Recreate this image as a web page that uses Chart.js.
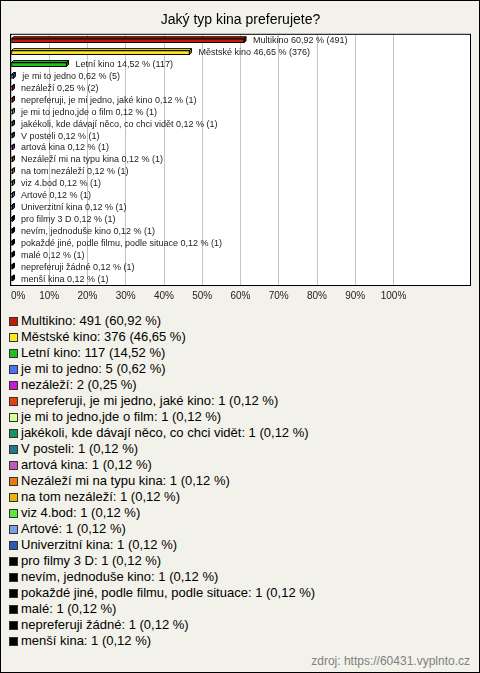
<!DOCTYPE html>
<html>
<head>
<meta charset="utf-8">
<script src="https://cdn.jsdelivr.net/npm/chart.js@4"></script>
<style>
    body { margin: 0; font-family: "Liberation Sans", Arial, sans-serif; }
    #wrap { position: relative; width: 480px; height: 673px; box-sizing: border-box; border: 1px solid #000; background: #f3f2ea; }
    #box { position: absolute; left: 0; top: 0; width: 478px; height: 310px; }
    #legend { position: absolute; left: 8px; top: 312px; }
    .row { height: 16px; line-height: 16px; font-size: 13px; color: #000; white-space: nowrap; }
    .sq { display: inline-block; width: 9px; height: 9px; box-sizing: border-box; border: 1px solid #333; margin-right: 3px; vertical-align: -1px; }
    #src { position: absolute; right: 9px; top: 653px; font-size: 12px; line-height: 14px; color: #808080; }
</style>
</head>
<body>
<div id="wrap">
    <div id="box"><canvas id="chart"></canvas></div>
    <div id="legend"></div>
    <div id="src">zdroj: https://60431.vyplnto.cz</div>
</div>
<script>
const title = 'Jaký typ kina preferujete?';

const categories = [
    'Multikino', 'Městské kino', 'Letní kino', 'je mi to jedno', 'nezáleží',
    'nepreferuji, je mi jedno, jaké kino', 'je mi to jedno,jde o film',
    'jakékoli, kde dávají něco, co chci vidět', 'V posteli', 'artová kina',
    'Nezáleží mi na typu kina', 'na tom nezáleží', 'viz 4.bod', 'Artové',
    'Univerzitní kina', 'pro filmy 3 D', 'nevím, jednoduše kino',
    'pokaždé jiné, podle filmu, podle situace', 'malé', 'nepreferuji žádné', 'menší kina'
];
const counts = [491, 376, 117, 5, 2, 1, 1, 1, 1, 1, 1, 1, 1, 1, 1, 1, 1, 1, 1, 1, 1];
const percents = [60.92, 46.65, 14.52, 0.62, 0.25, 0.12, 0.12, 0.12, 0.12, 0.12, 0.12,
    0.12, 0.12, 0.12, 0.12, 0.12, 0.12, 0.12, 0.12, 0.12, 0.12];
const colors = [
    '#c41a0a', '#ffe81a', '#1ec21e', '#4a72f5', '#c81ad2', '#e6400c', '#d4ff90',
    '#0e9a5a', '#1e7890', '#c05abc', '#e87a10', '#e8b40a', '#5ae83a', '#7ca0e6',
    '#2a5ab8', '#000000', '#000000', '#000000', '#000000', '#000000', '#000000'
];
const xTicks = [0, 10, 20, 30, 40, 50, 60, 70, 80, 90, 100];

const fmt = (v) => v.toFixed(2).replace('.', ',');

function darker(hex) {
    var n = parseInt(hex.slice(1), 16);
    var r = Math.round(((n >> 16) & 255) * 0.6), g = Math.round(((n >> 8) & 255) * 0.6), b = Math.round((n & 255) * 0.6);
    return 'rgb(' + r + ',' + g + ',' + b + ')';
}

// white plot background + black frame
const plotFrame = {
    id: 'plotFrame',
    beforeDraw(chart) {
        const a = chart.chartArea, ctx = chart.ctx;
        ctx.save();
        ctx.fillStyle = '#fff';
        ctx.fillRect(a.left, a.top, a.right - a.left, a.bottom - a.top);
        ctx.restore();
    },
    afterDraw(chart) {
        const a = chart.chartArea, ctx = chart.ctx;
        ctx.save();
        ctx.strokeStyle = '#000';
        ctx.lineWidth = 1;
        ctx.strokeRect(a.left - 0.5, a.top - 0.5, a.right - a.left + 1, a.bottom - a.top + 1);
        ctx.restore();
    }
};

// 3d top/side faces behind the bars, labels after them
const bars3d = {
    id: 'bars3d',
    beforeDatasetsDraw(chart) {
        const ctx = chart.ctx, d = 2;
        ctx.save();
        ctx.lineWidth = 1;
        ctx.strokeStyle = '#000';
        chart.getDatasetMeta(0).data.forEach((bar, i) => {
            const x0 = bar.base, x1 = Math.max(bar.x, bar.base + 1);
            const yt = bar.y - bar.height / 2, yb = bar.y + bar.height / 2;
            ctx.fillStyle = colors[i];
            ctx.beginPath();
            ctx.moveTo(x0, yt); ctx.lineTo(x1, yt); ctx.lineTo(x1 + d, yt - d); ctx.lineTo(x0 + d, yt - d);
            ctx.closePath(); ctx.fill(); ctx.stroke();
            ctx.fillStyle = darker(colors[i]);
            ctx.beginPath();
            ctx.moveTo(x1, yt); ctx.lineTo(x1 + d, yt - d); ctx.lineTo(x1 + d, yb - d); ctx.lineTo(x1, yb);
            ctx.closePath(); ctx.fill(); ctx.stroke();
        });
        ctx.restore();
    },
    afterDatasetsDraw(chart) {
        const ctx = chart.ctx;
        ctx.save();
        ctx.font = '9px "Liberation Sans", Arial, sans-serif';
        ctx.fillStyle = '#222';
        ctx.textBaseline = 'middle';
        chart.getDatasetMeta(0).data.forEach((bar, i) => {
            ctx.fillText(categories[i] + ' ' + fmt(percents[i]) + ' % (' + counts[i] + ')', bar.x + 9, bar.y);
        });
        ctx.restore();
    }
};

const config = {
    type: 'bar',
    data: {
        labels: categories,
        datasets: [{
            data: percents,
            backgroundColor: colors,
            borderColor: '#000',
            borderWidth: 1,
            borderSkipped: false,
            barThickness: 4,
            minBarLength: 1
        }]
    },
    options: {
        indexAxis: 'y',
        responsive: true,
        maintainAspectRatio: false,
        animation: false,
        layout: { padding: { left: 10, right: 9, top: 0, bottom: 4 } },
        plugins: {
            legend: { display: false },
            tooltip: { enabled: false },
            title: {
                display: true,
                text: title,
                color: '#000',
                font: { family: '"Liberation Sans", Arial, sans-serif', size: 14, weight: 'normal' },
                padding: { top: 11, bottom: 6 }
            }
        },
        scales: {
            x: {
                min: 0,
                max: 120,
                afterBuildTicks: (axis) => { axis.ticks = xTicks.concat([110, 120]).map(v => ({ value: v })); },
                ticks: {
                    padding: 5,
                    align: 'inner',
                    color: '#222',
                    maxRotation: 0,
                    font: { family: '"Liberation Sans", Arial, sans-serif', size: 10 },
                    callback: (v) => xTicks.includes(v) ? v + '%' : ''
                },
                grid: {
                    drawTicks: false,
                    color: (c) => (c.tick && c.tick.value > 100) ? 'rgba(0,0,0,0)' : '#c4c4c4'
                },
                border: { display: false }
            },
            y: { display: false }
        }
    },
    plugins: [plotFrame, bars3d]
};

new Chart(document.getElementById('chart').getContext('2d'), config);

var legend = document.getElementById('legend');
categories.forEach((cat, i) => {
    var row = document.createElement('div');
    row.className = 'row';
    var sq = document.createElement('span');
    sq.className = 'sq';
    sq.style.background = colors[i];
    row.appendChild(sq);
    row.appendChild(document.createTextNode(cat + ': ' + counts[i] + ' (' + fmt(percents[i]) + ' %)'));
    legend.appendChild(row);
});
</script>
</body>
</html>
